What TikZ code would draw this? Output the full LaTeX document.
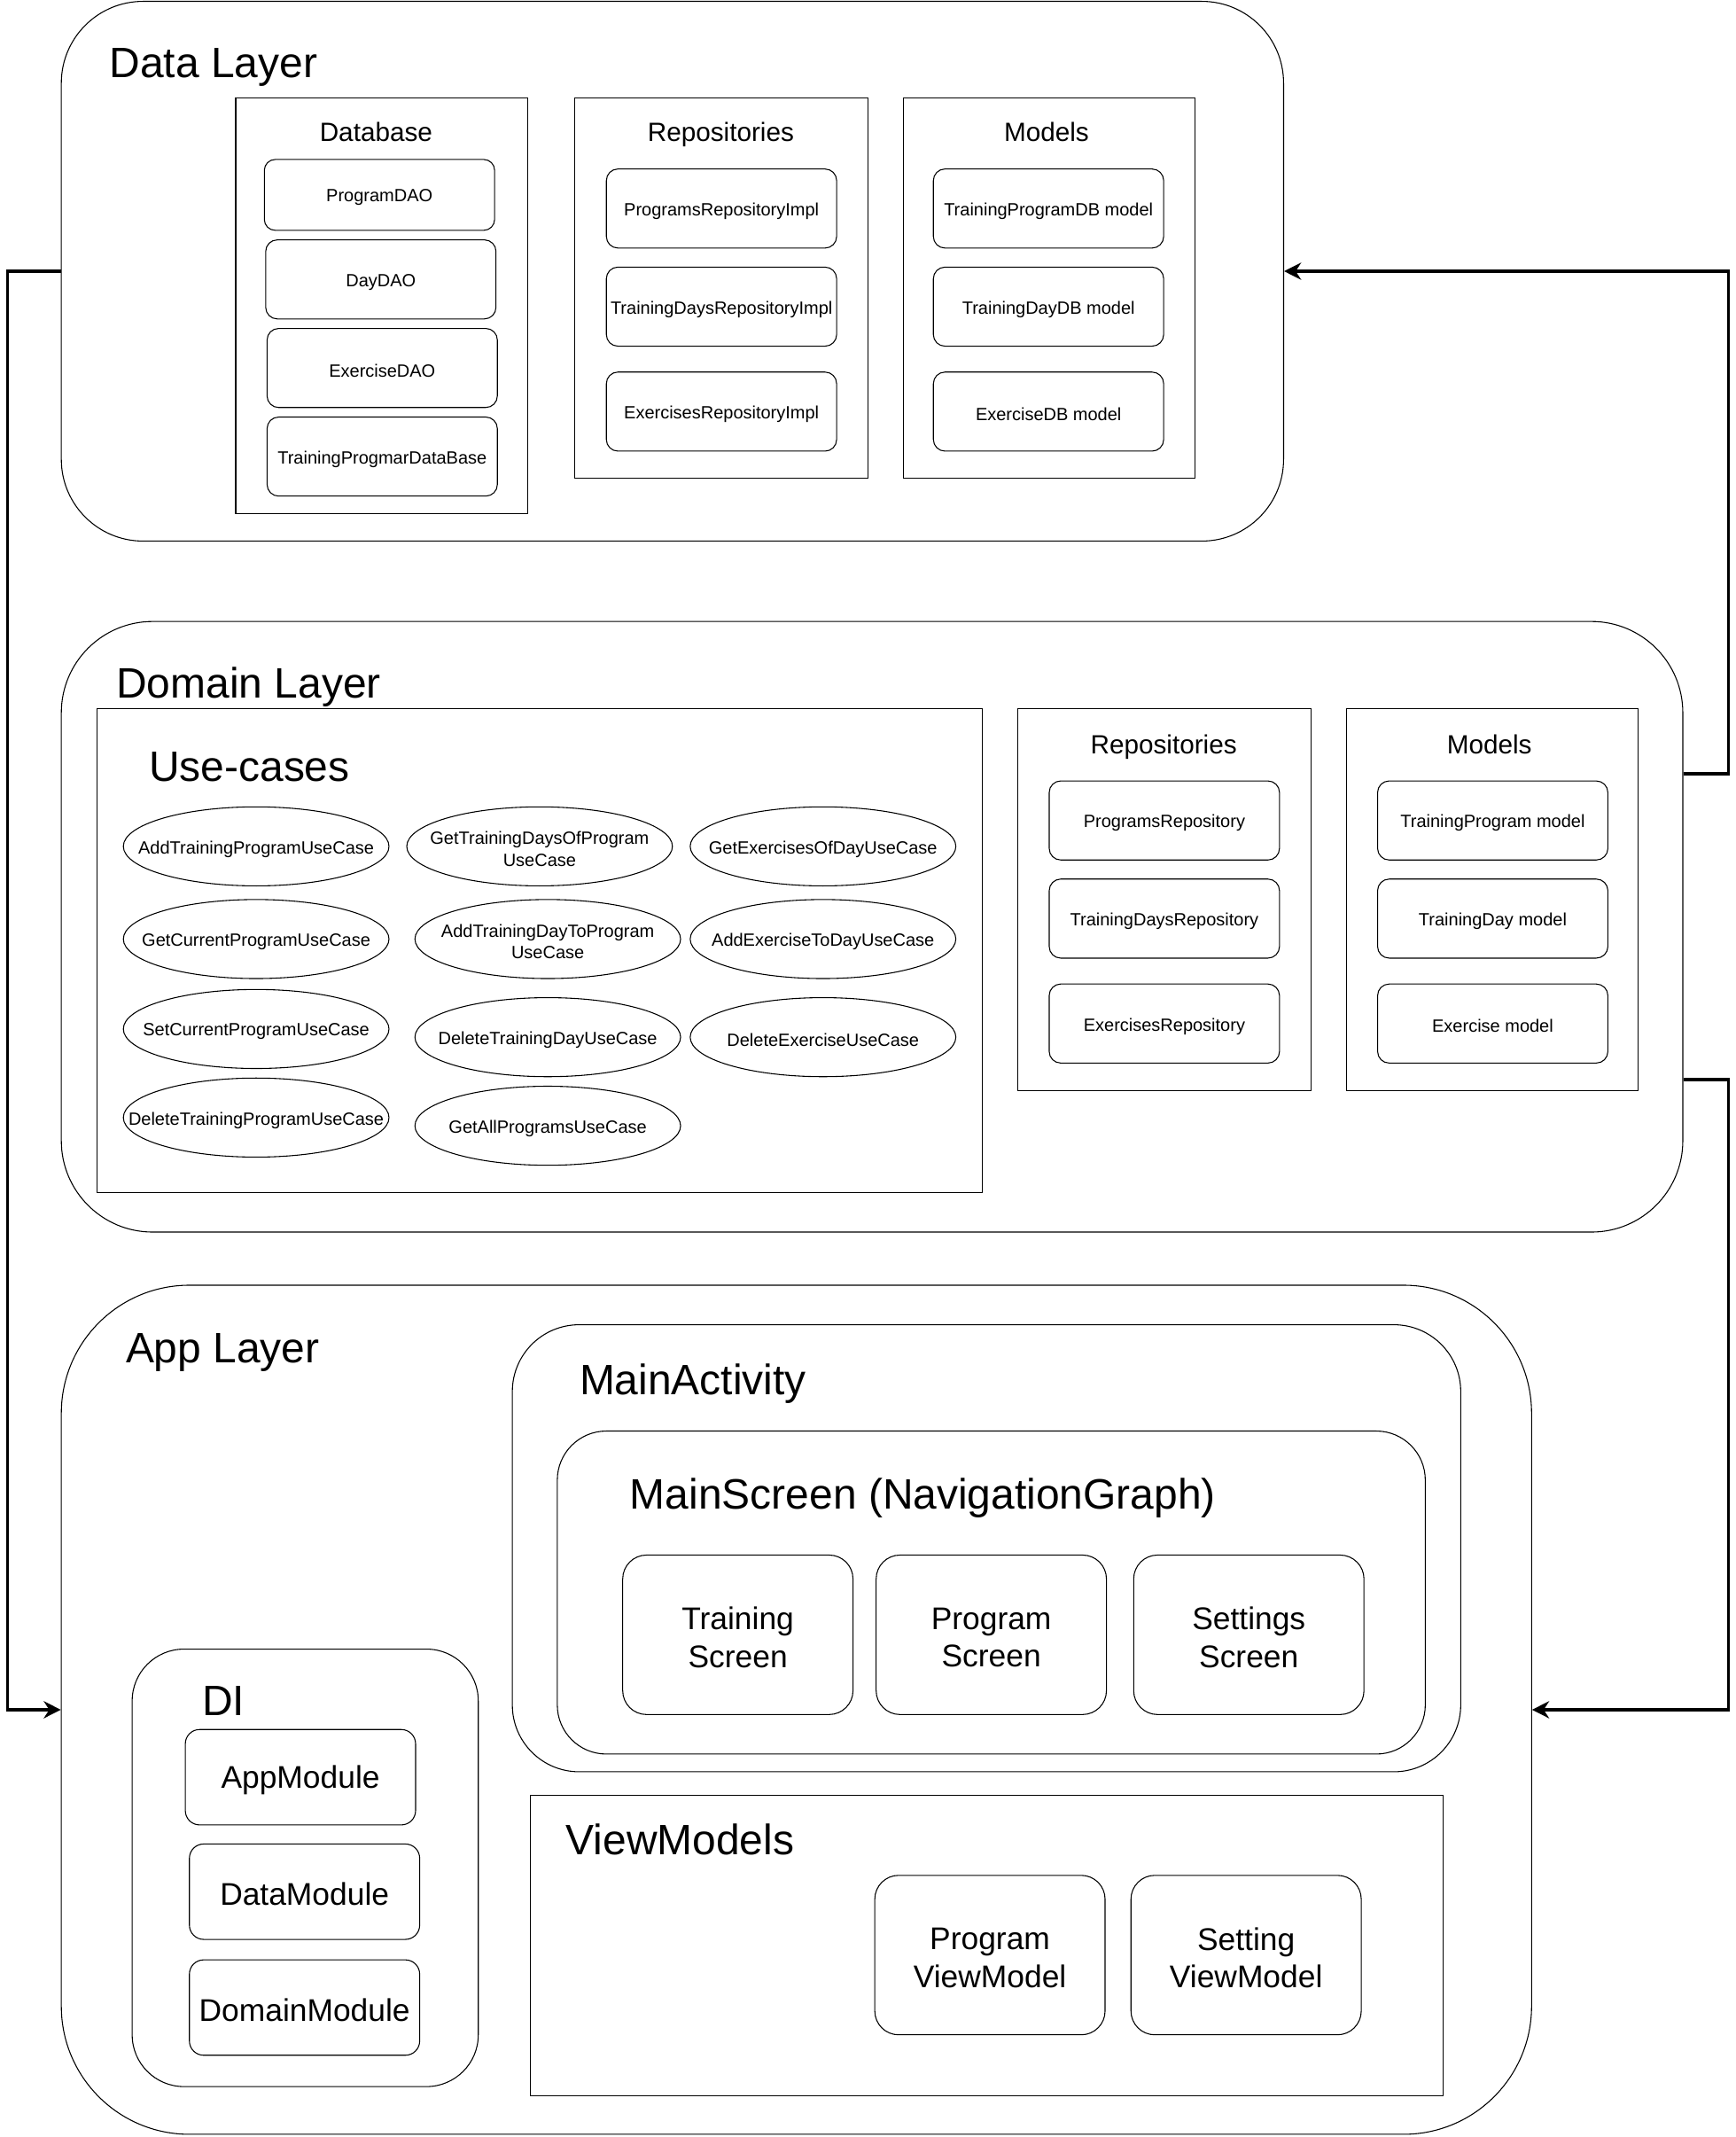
\documentclass[tikz,border=0pt]{standalone}
\usepackage{fontspec}
\setmainfont{Liberation Sans}
\usetikzlibrary{fit,shapes.geometric,arrows.meta,calc}
\newcommand\txs{\fontsize{7.4}{9.1}\selectfont}
\newcommand\txm{\fontsize{11}{13.2}\selectfont}
\newcommand\txl{\fontsize{13.1}{15.9}\selectfont}
\newcommand\txx{\fontsize{17.75}{21.3}\selectfont}
% container: name, x1, y1, x2, y2, radius
\newcommand\RB[6]{\node[bx,rounded corners=#6*0.02cm,fit={(#2,#3)(#4,#5)}] (#1) {};}
% text box: [font] name, x1, y1, x2, y2, radius, text
\newcommand\RT[8][\txs]{\node[bx,rounded corners=#7*0.02cm,fit={(#3,#4)(#5,#6)},
   label={[font=#1,align=center,inner sep=0pt,yshift=-0.04cm]center:{#8}}] (#2) {};}
\newcommand\SB[5]{\node[bx,fit={(#2,#3)(#4,#5)}] (#1) {};}
\begin{document}
\begin{tikzpicture}[x=0.02cm,y=-0.02cm,
  bx/.style={draw=black,line width=0.4pt,inner sep=0pt},
  ttl/.style={anchor=base west,inner sep=0pt,font=\txx},
  sub/.style={anchor=base,inner sep=0pt,font=\txm},
  uc/.style={ellipse,draw=black,line width=0.4pt,inner sep=0pt,minimum width=3.9cm,minimum height=1.16cm},
  ul/.style={font=\txs,align=center,yshift=-0.04cm},
  arr/.style={line width=1.2pt,-{Stealth[length=0.25cm,width=0.25cm,inset=0.08cm]}}]
\useasboundingbox (0,0) rectangle (1274,1568);

% ---------------- Data Layer ----------------
\RB{data}{45}{1}{942}{397}{60}
\node[ttl] (tdata) at (80,57) {Data Layer};

\SB{dbbox}{173}{72}{387}{377}
\node[sub] (tdb) at (276,104) {Database};
\RT{pdao}{194}{117}{363}{169}{8}{ProgramDAO}
\RT{ddao}{195}{176}{364}{234}{8.5}{DayDAO}
\RT{edao}{196}{241}{365}{299}{8.5}{ExerciseDAO}
\RT{tpdb}{196}{306}{365}{364}{8.5}{TrainingProgmarDataBase}

\SB{rimplbox}{422}{72}{637}{351}
\node[sub] (trimpl) at (529,104) {Repositories};
\RT{pri}{445}{124}{614}{182}{8.5}{ProgramsRepositoryImpl}
\RT{tdri}{445}{196}{614}{254}{8.5}{TrainingDaysRepositoryImpl}
\RT{eri}{445}{273}{614}{331}{8.5}{ExercisesRepositoryImpl}

\SB{dbmodbox}{663}{72}{877}{351}
\node[sub] (tdbmod) at (768,104) {Models};
\RT{tpdbm}{685}{124}{854}{182}{8.5}{TrainingProgramDB model}
\RT{tddbm}{685}{196}{854}{254}{8.5}{TrainingDayDB model}
\RT{edbm}{685}{273}{854}{331}{8.5}{ExerciseDB model}

% ---------------- Domain Layer ----------------
\RB{dom}{45}{456}{1235}{904}{67}
\node[ttl] (tdom) at (85,512) {Domain Layer};

\SB{ucbox}{71}{520}{721}{875}
\node[ttl] (tuc) at (109,573) {Use-cases};

\node[uc,label={[ul]center:AddTrainingProgramUseCase}] (uc1) at (188,621) {};
\node[uc,label={[ul]center:GetCurrentProgramUseCase}] (uc2) at (188,689) {};
\node[uc,label={[ul]center:SetCurrentProgramUseCase}] (uc3) at (188,755) {};
\node[uc,label={[ul]center:DeleteTrainingProgramUseCase}] (uc4) at (188,820) {};
\node[uc,label={[ul]center:{GetTrainingDaysOfProgram\\UseCase}}] (uc5) at (396,621) {};
\node[uc,label={[ul]center:{AddTrainingDayToProgram\\UseCase}}] (uc6) at (402,689) {};
\node[uc,label={[ul]center:DeleteTrainingDayUseCase}] (uc7) at (402,761) {};
\node[uc,label={[ul]center:GetAllProgramsUseCase}] (uc8) at (402,826) {};
\node[uc,label={[ul]center:GetExercisesOfDayUseCase}] (uc9) at (604,621) {};
\node[uc,label={[ul]center:AddExerciseToDayUseCase}] (uc10) at (604,689) {};
\node[uc,label={[ul]center:DeleteExerciseUseCase}] (uc11) at (604,761) {};

\SB{repbox}{747}{520}{962}{800}
\node[sub] (trep) at (854,553) {Repositories};
\RT{pr}{770}{573}{939}{631}{8.5}{ProgramsRepository}
\RT{tdr}{770}{645}{939}{703}{8.5}{TrainingDaysRepository}
\RT{er}{770}{722}{939}{780}{8.5}{ExercisesRepository}

\SB{modbox}{988}{520}{1202}{800}
\node[sub] (tmod) at (1093,553) {Models};
\RT{tpm}{1011}{573}{1180}{631}{8.5}{TrainingProgram model}
\RT{tdm}{1011}{645}{1180}{703}{8.5}{TrainingDay model}
\RT{em}{1011}{722}{1180}{780}{8.5}{Exercise model}

% ---------------- App Layer ----------------
\RB{app}{45}{943}{1124}{1566}{94}
\node[ttl] (tapp) at (92,1000) {App Layer};

\RB{mact}{376}{972}{1072}{1300}{49}
\node[ttl] (tmact) at (425,1023) {MainActivity};

\RB{mscr}{409}{1050}{1046}{1287}{36}
\node[ttl] (tmscr) at (462,1107) {MainScreen (NavigationGraph)};

\RT[\txl]{trs}{457}{1141}{626}{1258}{17.5}{Training\\Screen}
\RT[\txl]{prs}{643}{1141}{812}{1258}{17.5}{Program\\Screen}
\RT[\txl]{sts}{832}{1141}{1001}{1258}{17.5}{Settings\\Screen}

\SB{vmbox}{389}{1317}{1059}{1538}
\node[ttl] (tvm) at (415,1361) {ViewModels};
\RT[\txl]{pvm}{642}{1376}{811}{1493}{17.5}{Program\\ViewModel}
\RT[\txl]{svm}{830}{1376}{999}{1493}{17.5}{Setting\\ViewModel}

\RB{di}{97}{1210}{351}{1531}{38}
\node[ttl] (tdi) at (148,1259) {DI};
\RT[\txl]{appm}{136}{1269}{305}{1339}{10.5}{AppModule}
\RT[\txl]{datam}{139}{1353}{308}{1423}{10.5}{DataModule}
\RT[\txl]{domm}{139}{1438}{308}{1508}{10.5}{DomainModule}

% ---------------- Connectors ----------------
\coordinate (domA) at ($(dom.north east)!0.25!(dom.south east)$);
\coordinate (domB) at ($(dom.north east)!0.75!(dom.south east)$);
\draw[arr] (data.west) -- ++(-39,0) |- (app.west);
\draw[arr] (domA) -- ++(33,0) |- (data.east);
\draw[arr] (domB) -- ++(33,0) |- (app.east);
\end{tikzpicture}
\end{document}
